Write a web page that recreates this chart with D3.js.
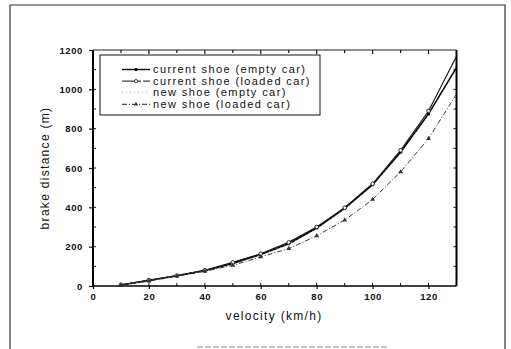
<!DOCTYPE html>
<html>
<head>
<meta charset="utf-8" />
<title>brake distance</title>
<style>
html, body { margin:0; padding:0; background:#fff; }
svg { display:block; }
text { font-family: "Liberation Sans", Arial, sans-serif; fill:#111; }
</style>
</head>
<body>
<script src="https://d3js.org/d3.v7.min.js"></script>
<script>
// velocity (km/h)
var speeds = [10,20,30,40,50,60,70,80,90,100,110,120,130];
// brake distance (m)
var curEmpty  = [5,28,52,78,115,160,215,295,395,515,680,875,1110];
var curLoaded = [6,30,53,80,120,164,222,300,398,520,690,890,1168];
var newEmpty  = [5,27,51,77,112,157,212,290,390,510,675,868,1100];
var newLoaded = [4,25,50,75,105,148,190,255,335,440,580,750,975];
var legendNames = ["current shoe (empty car)","current shoe (loaded car)","new shoe (empty car)","new shoe (loaded car)"];
var xTicks = [0,20,40,60,80,100,120];
var yTicks = [0,200,400,600,800,1000,1200];

var W = 511, H = 349;
var svg = d3.select("body").append("svg").attr("width",W).attr("height",H);

// outer frame of the scanned page
svg.append("path").attr("d","M10,349 L10,5 L505,5 L505,349")
  .attr("fill","none").attr("stroke","#333").attr("stroke-width",1.2);
svg.append("line").attr("x1",197).attr("x2",387).attr("y1",347).attr("y2",347)
  .attr("stroke","#888").attr("stroke-dasharray","6,2");

var x = d3.scaleLinear().domain([0,130]).range([93,456.5]);
var y = d3.scaleLinear().domain([0,1200]).range([286,50]);

// axes
var g = svg.append("g");
g.append("g").attr("transform","translate(0,286)")
  .call(d3.axisBottom(x).tickValues(xTicks).tickFormat(d3.format("d")).tickSize(3).tickPadding(4))
  .call(function(a){ a.select(".domain").remove(); });
g.append("g").attr("transform","translate(93,0)")
  .call(d3.axisLeft(y).tickValues(yTicks).tickFormat(d3.format("d")).tickSize(4).tickPadding(6))
  .call(function(a){ a.select(".domain").remove(); });
g.selectAll(".tick text").style("font-size","9.5px").style("font-weight","bold").style("letter-spacing","0.6px").attr("fill","#111");
g.selectAll(".tick line").attr("stroke","#111").attr("stroke-width",1.2);

// minor / inner ticks
var xMinor = d3.range(10,130,10);
var yMinor = d3.range(100,1200,100);
svg.selectAll(".xt").data(xMinor).enter().append("line")
  .attr("x1",function(d){return x(d);}).attr("x2",function(d){return x(d);})
  .attr("y1",50).attr("y2",function(d){return d%20==0?54:53;})
  .attr("stroke","#111").attr("stroke-width",1.2);
svg.selectAll(".xb").data(xMinor).enter().append("line")
  .attr("x1",function(d){return x(d);}).attr("x2",function(d){return x(d);})
  .attr("y1",286).attr("y2",283).attr("stroke","#111").attr("stroke-width",1);
svg.selectAll(".yl").data(yMinor).enter().append("line")
  .attr("x1",93).attr("x2",96)
  .attr("y1",function(d){return y(d);}).attr("y2",function(d){return y(d);})
  .attr("stroke","#111").attr("stroke-width",1);
svg.selectAll(".yr").data(yMinor).enter().append("line")
  .attr("x1",456.5).attr("x2",453.5)
  .attr("y1",function(d){return y(d);}).attr("y2",function(d){return y(d);})
  .attr("stroke","#111").attr("stroke-width",1);

// plot frame
svg.append("line").attr("x1",93).attr("x2",93).attr("y1",50).attr("y2",286).attr("stroke","#000").attr("stroke-width",2);
svg.append("line").attr("x1",456.5).attr("x2",456.5).attr("y1",50).attr("y2",286).attr("stroke","#000").attr("stroke-width",2);
svg.append("line").attr("x1",93).attr("x2",456.5).attr("y1",50).attr("y2",50).attr("stroke","#222").attr("stroke-width",1.2);
svg.append("line").attr("x1",93).attr("x2",456.5).attr("y1",286).attr("y2",286).attr("stroke","#000").attr("stroke-width",1.6);

// titles
svg.append("text").attr("x",274).attr("y",320).attr("text-anchor","middle")
  .style("font-size","12px").style("letter-spacing","1.3px").text("velocity (km/h)");
svg.append("text").attr("transform","translate(49,168) rotate(-90)").attr("text-anchor","middle")
  .style("font-size","12px").style("letter-spacing","1.3px").text("brake distance (m)");

// series
var line = d3.line().x(function(d,i){return x(speeds[i]);}).y(function(d){return y(d);});
var series = [
  {v:curEmpty,  stroke:"#000", w:1.6, dash:null,  mark:"dot"},
  {v:curLoaded, stroke:"#111", w:1.1, dash:null,  mark:"circle"},
  {v:newEmpty,  stroke:"#bbb", w:0.8, dash:"1,3", mark:"none"},
  {v:newLoaded, stroke:"#222", w:0.9, dash:"5,2,1,2", mark:"tri"}
];
series.forEach(function(s){
  svg.append("path").attr("d",line(s.v)).attr("fill","none")
    .attr("stroke",s.stroke).attr("stroke-width",s.w)
    .attr("stroke-dasharray",s.dash);
  var pts = s.v.slice(0,12);
  if(s.mark=="dot"){
    svg.selectAll(null).data(pts).enter().append("circle")
      .attr("cx",function(d,i){return x(speeds[i]);}).attr("cy",function(d){return y(d);})
      .attr("r",1.6).attr("fill","#000");
  } else if(s.mark=="circle"){
    svg.selectAll(null).data(pts).enter().append("circle")
      .attr("cx",function(d,i){return x(speeds[i]);}).attr("cy",function(d){return y(d);})
      .attr("r",1.8).attr("fill","#fff").attr("stroke","#111").attr("stroke-width",0.9);
  } else if(s.mark=="tri"){
    svg.selectAll(null).data(pts).enter().append("path")
      .attr("transform",function(d,i){return "translate("+x(speeds[i])+","+y(d)+")";})
      .attr("d",d3.symbol(d3.symbolTriangle,10)).attr("fill","#333");
  }
});

// legend
var lg = svg.append("g");
lg.append("rect").attr("x",100).attr("y",55).attr("width",220).attr("height",60)
  .attr("fill","#fff").attr("stroke","#111").attr("stroke-width",1);
legendNames.forEach(function(name,i){
  var ly = 73 + i*11.6;
  var s = series[i];
  lg.append("line").attr("x1",122).attr("x2",150).attr("y1",ly-3.5).attr("y2",ly-3.5)
    .attr("stroke",s.stroke).attr("stroke-width",i==0?1.4:1)
    .attr("stroke-dasharray", i==1?"14,2,3,2":s.dash);
  if(s.mark=="dot") lg.append("circle").attr("cx",136).attr("cy",ly-3.5).attr("r",1.6).attr("fill","#000");
  if(s.mark=="circle") lg.append("circle").attr("cx",136).attr("cy",ly-3.5).attr("r",1.6).attr("fill","#fff").attr("stroke","#111").attr("stroke-width",0.8);
  if(s.mark=="tri") lg.append("path").attr("transform","translate(136,"+(ly-3.5)+")").attr("d",d3.symbol(d3.symbolTriangle,8)).attr("fill","#333");
  lg.append("text").attr("x",153).attr("y",ly).style("font-size","11px").style("letter-spacing","1.4px").text(name);
});
</script>
</body>
</html>
